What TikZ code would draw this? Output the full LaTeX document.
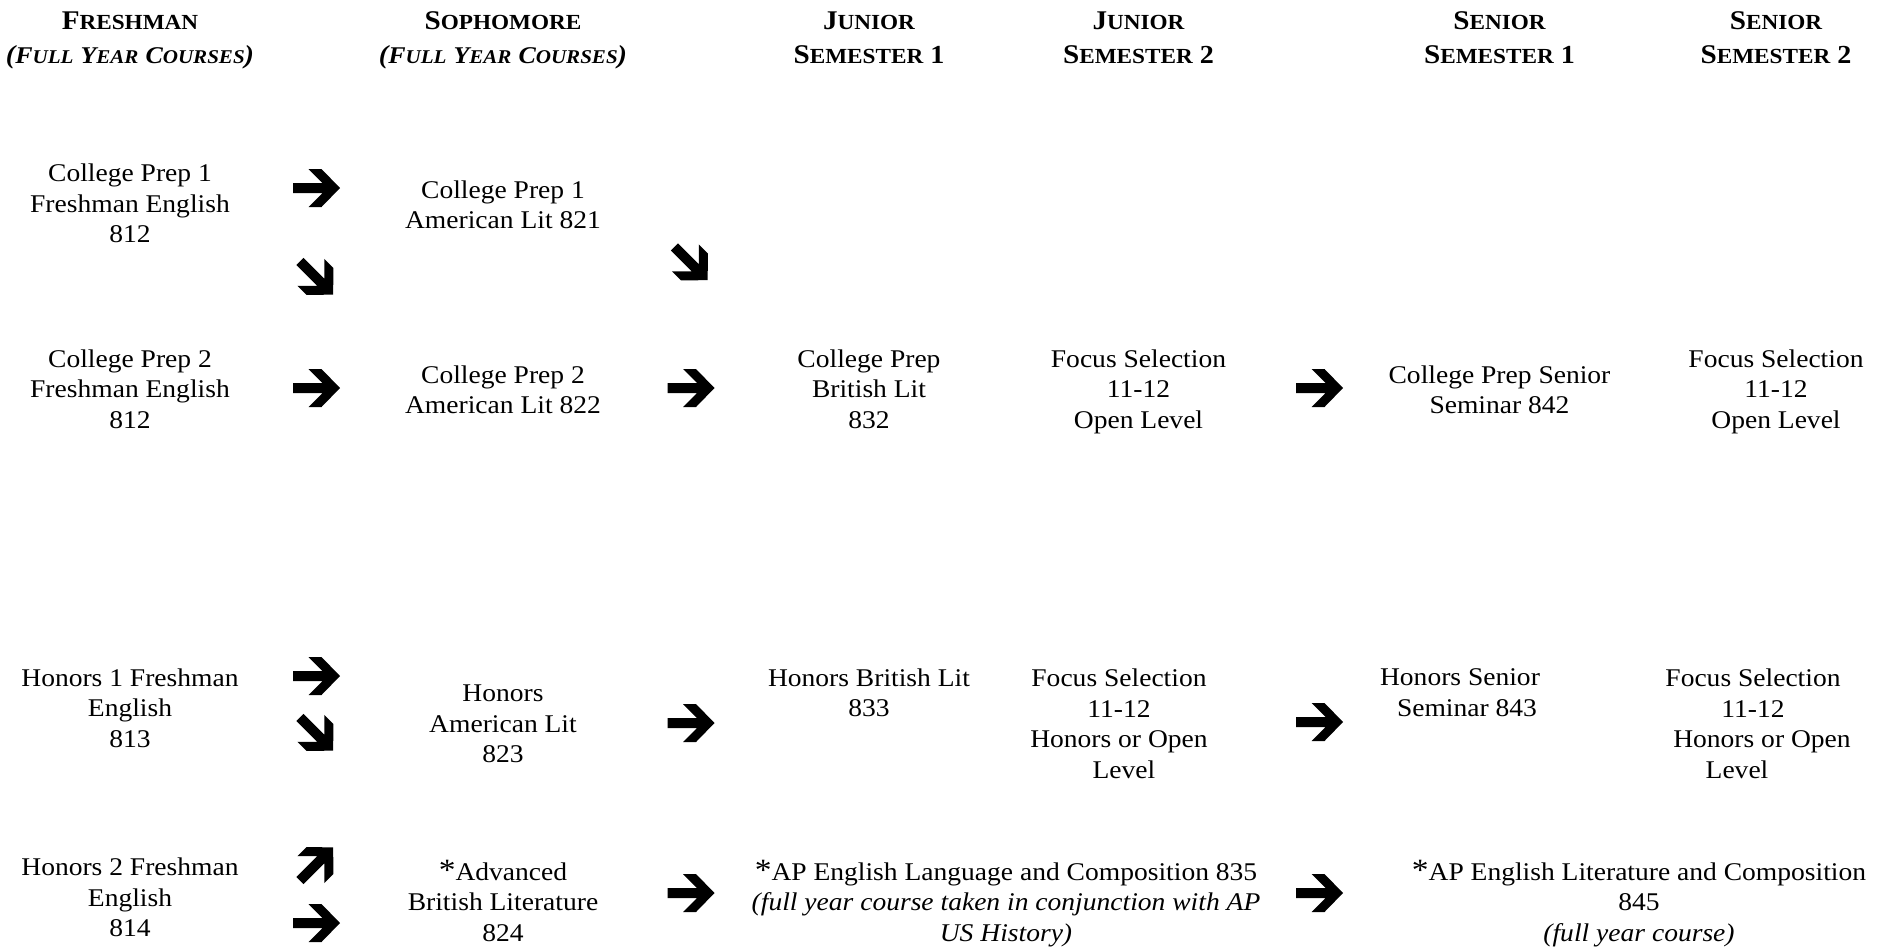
\documentclass[tikz,border=0pt]{standalone}
\usepackage{fontspec}
\setmainfont{Liberation Serif}[FakeStretch=1.08]
\newcommand{\bigsc}[2]{{\fontsize{27}{33.5}\selectfont #1}{\fontsize{21.5}{33.5}\selectfont #2}}
\newcommand{\smsc}[2]{{\fontsize{24}{33.5}\selectfont #1}{\fontsize{19.5}{33.5}\selectfont #2}}
\newcommand{\astr}{{\fontsize{31}{30.5}\selectfont *}}
\tikzset{
  course/.style={align=center, inner sep=0pt, font=\fontsize{25.5}{30.5}\selectfont,
    execute at begin node=\strut, execute at end node=\strut},
  head/.style={align=center, inner sep=0pt, font=\fontsize{26}{33.5}\selectfont\bfseries,
    execute at begin node=\strut, execute at end node=\strut},
  bigarrow/.pic={\fill[black] (-23.5,-5) -- (6,-5) -- (-8,-19) -- (5,-19) -- (23.5,0)
     -- (5,19) -- (-8,19) -- (6,5) -- (-23.5,5) -- cycle;}
}
\begin{document}
\begin{tikzpicture}[x=1pt,y=-1pt]
\useasboundingbox[fill=white] (0,0) rectangle (1887,951);
% headers
\node[head] (h1) at (130,42.5) {\bigsc{F}{RESHMAN}\\ \itshape(\smsc{F}{ULL} \smsc{Y}{EAR} \smsc{C}{OURSES})};
\node[head] (h2) at (503,42.5) {\bigsc{S}{OPHOMORE}\\ \itshape(\smsc{F}{ULL} \smsc{Y}{EAR} \smsc{C}{OURSES})};
\node[head] (h3) at (869,42.5) {\bigsc{J}{UNIOR}\\ \bigsc{S}{EMESTER} 1};
\node[head] (h4) at (1138.5,42.5) {\bigsc{J}{UNIOR}\\ \bigsc{S}{EMESTER} 2};
\node[head] (h5) at (1499.5,42.5) {\bigsc{S}{ENIOR}\\ \bigsc{S}{EMESTER} 1};
\node[head] (h6) at (1776,42.5) {\bigsc{S}{ENIOR}\\ \bigsc{S}{EMESTER} 2};
% row 1
\node[course] (c11) at (130,208) {College Prep 1\\ Freshman English\\ 812};
\node[course] (c12) at (503,209) {College Prep 1\\ American Lit 821};
% row 2
\node[course] (c21) at (130,393.5) {College Prep 2\\ Freshman English\\ 812};
\node[course] (c22) at (503,394) {College Prep 2\\ American Lit 822};
\node[course] (c23) at (869,393.5) {College Prep\\ British Lit\\ 832};
\node[course] (c24) at (1138.5,393.5) {Focus Selection\\ 11-12\\ Open Level};
\node[course] (c25) at (1499.5,394) {College Prep Senior\\ Seminar 842};
\node[course] (c26) at (1776,393.5) {Focus Selection\\ 11-12\\ Open Level};
% row 3
\node[course] (c31) at (130,712.5) {Honors 1 Freshman\\ English\\ 813};
\node[course] (c32) at (503,728.5) {Honors\\ American Lit\\ 823};
\node[course] (c33) at (869,697) {Honors British Lit\\ 833};
\node[course] (c34) at (1119,728) {Focus Selection\\ 11-12\\ Honors or Open\\ \hspace*{10pt}Level};
\node[course] (c35) at (1460,697) {Honors Senior\\ \hspace*{14pt}Seminar 843};
\node[course] (c36) at (1753,728) {Focus Selection\\ 11-12\\ \hspace*{18pt}Honors or Open\\ Level\hspace*{32pt}};
% row 4
\node[course] (c41) at (130,902) {Honors 2 Freshman\\ English\\ 814};
\node[course] (c42) at (503,905) {\astr Advanced\\ British Literature\\ 824};
\node[course] (c43) at (1006,905) {\astr AP English Language and Composition 835\\ \itshape(full year course taken in conjunction with AP\\ \itshape US History)};
\node[course] (c45) at (1639,905) {\astr AP English Literature and Composition\\ 845\\ \itshape(full year course)};
% arrows
\pic at (316.5,188) {bigarrow};
\pic[rotate=-45] at (316.5,278) {bigarrow};
\pic[rotate=-45] at (691,263.5) {bigarrow};
\pic at (316.5,388) {bigarrow};
\pic at (691,388) {bigarrow};
\pic at (1319.5,388) {bigarrow};
\pic at (316.5,676) {bigarrow};
\pic[rotate=-45] at (316.5,734) {bigarrow};
\pic at (691,723) {bigarrow};
\pic at (1319.5,722) {bigarrow};
\pic[rotate=45] at (316.5,864) {bigarrow};
\pic at (316.5,923) {bigarrow};
\pic at (691,893) {bigarrow};
\pic at (1319.5,893) {bigarrow};
\end{tikzpicture}
\end{document}
